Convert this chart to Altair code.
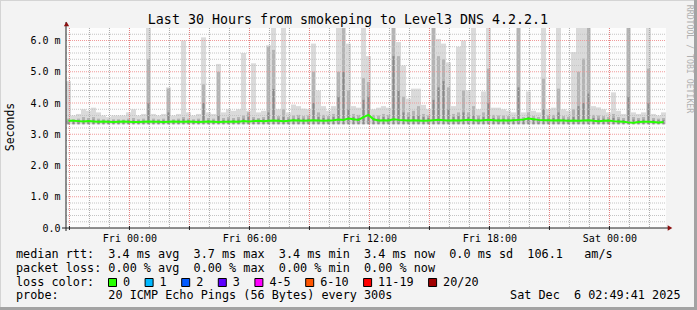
import altair as alt
import pandas as pd

# ---------------- data ----------------
title_text = "Last 30 Hours from smokeping to Level3 DNS 4.2.2.1"
y_title = "Seconds"
watermark = "RRDTOOL / TOBI OETIKER"

start_hour = 20 + 49 / 60 + 41 / 3600      # Thu 20:49:41, hours since Thu 00:00
span_hours = 30.0
step_hours = 0.25                           # one smoke column per 15 minutes

median_ms = [
    3.43, 3.43, 3.42, 3.41, 3.42, 3.41, 3.40, 3.41, 3.40, 3.39,
    3.40, 3.41, 3.40, 3.39, 3.39, 3.40, 3.41, 3.40, 3.40, 3.39,
    3.40, 3.41, 3.40, 3.40, 3.41, 3.40, 3.39, 3.40, 3.41, 3.40,
    3.39, 3.40, 3.40, 3.41, 3.40, 3.42, 3.41, 3.42, 3.43, 3.42,
    3.43, 3.44, 3.43, 3.42, 3.43, 3.45, 3.44, 3.43, 3.44, 3.45,
    3.44, 3.43, 3.44, 3.45, 3.47, 3.46, 3.50, 3.48, 3.46, 3.55,
    3.62, 3.48, 3.44, 3.45, 3.44, 3.48, 3.46, 3.45, 3.44, 3.45,
    3.44, 3.43, 3.44, 3.45, 3.46, 3.45, 3.44, 3.45, 3.44, 3.45,
    3.46, 3.45, 3.44, 3.45, 3.46, 3.45, 3.44, 3.45, 3.44, 3.45,
    3.46, 3.47, 3.50, 3.48, 3.46, 3.45, 3.45, 3.44, 3.45, 3.44,
    3.43, 3.44, 3.43, 3.44, 3.45, 3.43, 3.42, 3.43, 3.44, 3.42,
    3.41, 3.40, 3.38, 3.37, 3.39, 3.40, 3.40, 3.39, 3.38, 3.39,
]
smoke_max_ms = [
    4.70, 3.60, 3.65, 3.80, 3.75, 3.85, 3.70, 3.60, 3.55, 3.60,
    3.60, 3.60, 3.70, 3.80, 3.60, 3.65, 6.40, 3.65, 3.60, 3.65,
    4.50, 3.60, 3.65, 6.00, 3.70, 3.60, 3.65, 6.10, 3.70, 3.65,
    5.25, 3.70, 3.80, 3.75, 3.80, 5.60, 3.75, 5.27, 3.70, 3.75,
    5.85, 6.40, 3.80, 6.40, 3.70, 3.95, 3.90, 3.82, 3.80, 5.90,
    4.40, 3.90, 3.75, 3.90, 6.40, 6.40, 5.90, 3.90, 3.85, 6.40,
    5.50, 3.80, 3.85, 3.90, 3.85, 6.40, 5.95, 5.20, 4.14, 4.46,
    4.46, 3.94, 3.80, 6.40, 6.05, 5.90, 5.30, 3.90, 5.80, 6.00,
    4.40, 6.40, 3.80, 4.37, 6.40, 3.85, 3.85, 3.80, 3.75, 3.70,
    6.40, 3.70, 4.37, 3.75, 3.70, 6.40, 3.80, 3.85, 6.40, 3.80,
    3.75, 5.63, 6.40, 6.40, 6.40, 3.90, 3.86, 3.80, 3.70, 4.34,
    3.75, 3.65, 6.40, 3.70, 3.65, 3.70, 6.40, 3.65, 3.60, 3.70,
]
smoke_mid_ms = [
    3.50, 3.48, 3.50, 3.55, 3.52, 3.55, 3.50, 3.48, 3.47, 3.48,
    3.48, 3.47, 3.50, 3.52, 3.48, 3.50, 5.40, 3.50, 3.48, 3.50,
    4.46, 3.48, 3.50, 3.55, 3.50, 3.48, 3.50, 4.60, 3.52, 3.50,
    5.00, 3.52, 3.55, 3.52, 3.55, 3.60, 3.70, 3.55, 3.52, 3.55,
    5.80, 5.70, 3.58, 3.80, 3.55, 3.60, 3.62, 3.58, 3.60, 5.00,
    3.70, 3.62, 3.58, 3.65, 5.00, 6.40, 4.40, 3.65, 3.62, 4.80,
    4.67, 3.62, 3.60, 3.65, 3.62, 6.40, 5.50, 4.20, 3.70, 3.75,
    3.90, 3.65, 3.60, 6.40, 5.50, 5.40, 4.50, 3.65, 3.70, 4.40,
    3.70, 3.90, 3.60, 3.70, 5.10, 3.62, 3.60, 3.60, 3.58, 3.55,
    6.40, 3.55, 3.70, 3.58, 3.55, 4.78, 3.60, 3.62, 4.46, 3.58,
    3.56, 3.80, 5.00, 5.42, 6.40, 3.62, 3.60, 3.58, 3.55, 3.65,
    3.55, 3.52, 6.40, 3.55, 3.52, 3.55, 5.10, 3.52, 3.50, 3.52,
]
smoke_dark_ms = [
    3.44, 3.44, 3.45, 3.46, 3.46, 3.47, 3.45, 3.44, 3.44, 3.44,
    3.44, 3.44, 3.45, 3.45, 3.44, 3.44, 4.00, 3.45, 3.44, 3.45,
    3.70, 3.44, 3.45, 3.48, 3.45, 3.44, 3.45, 4.00, 3.46, 3.45,
    3.60, 3.46, 3.47, 3.46, 3.47, 3.50, 3.55, 3.48, 3.47, 3.48,
    3.70, 4.45, 3.50, 3.55, 3.48, 3.50, 3.52, 3.50, 3.50, 4.00,
    3.55, 3.52, 3.50, 3.55, 4.20, 5.00, 3.80, 3.55, 3.52, 4.10,
    4.20, 3.52, 3.50, 3.55, 3.52, 5.50, 4.40, 3.70, 3.55, 3.58,
    3.60, 3.55, 3.52, 4.10, 4.50, 4.70, 3.80, 3.55, 3.58, 3.70,
    3.55, 3.60, 3.50, 3.55, 4.00, 3.52, 3.50, 3.50, 3.50, 3.48,
    4.50, 3.48, 3.55, 3.50, 3.48, 3.80, 3.50, 3.52, 3.70, 3.50,
    3.48, 3.55, 3.90, 4.00, 4.30, 3.52, 3.50, 3.50, 3.48, 3.52,
    3.48, 3.46, 4.20, 3.47, 3.46, 3.47, 4.00, 3.46, 3.45, 3.46,
]
smoke_min_ms = 3.32

x_tick_hours = [24, 30, 36, 42, 48]
x_tick_labels = ["Fri 00:00", "Fri 06:00", "Fri 12:00", "Fri 18:00", "Sat 00:00"]
y_tick_values = [0, 1, 2, 3, 4, 5, 6]
y_tick_labels = ["0.0  ", "1.0 m", "2.0 m", "3.0 m", "4.0 m", "5.0 m", "6.0 m"]

legend_rows = [
    "median rtt:  3.4 ms avg  3.7 ms max  3.4 ms min  3.4 ms now  0.0 ms sd  106.1   am/s",
    "packet loss: 0.00 % avg  0.00 % max  0.00 % min  0.00 % now",
    "loss color:",
    "probe:       20 ICMP Echo Pings (56 Bytes) every 300s",
]
timestamp_text = "Sat Dec  6 02:49:41 2025"
loss_labels = ["0", "1", "2", "3", "4-5", "6-10", "11-19", "20/20"]
loss_colors = ["#26ff00", "#00b8ff", "#0059ff", "#5e00ff", "#ff00ff",
               "#ff5500", "#ff0000", "#a10000"]

# ---------------- layout / style ----------------
PL, PT, W, H = 66, 28, 600, 200
PX_PER_HOUR = W / span_hours
MONO = "DejaVu Sans Mono"
CHAR_W = 7.1
LEG_FS = 11.8


def nb(s):
    return s.replace(" ", "\u00a0")


n = len(median_ms)
t0 = [start_hour + i * step_hours for i in range(n)]
tc = [t + step_hours / 2 for t in t0]
mid_half = 1.5 / PX_PER_HOUR     # mid-grey core 3 px wide
dark_half = 1.0 / PX_PER_HOUR    # dark core 2 px wide
smoke_df = pd.DataFrame({
    "t0": t0,
    "t1": [t + step_hours for t in t0],
    "tc": tc,
    "m0": [c - mid_half for c in tc],
    "m1": [c + mid_half for c in tc],
    "d0": [c - dark_half for c in tc],
    "d1": [c + dark_half for c in tc],
    "median": median_ms,
    "light": smoke_max_ms,
    "mid": smoke_mid_ms,
    "dark": smoke_dark_ms,
    "low": [smoke_min_ms] * n,
})

xs = alt.Scale(domain=[start_hour, start_hour + span_hours], nice=False, zero=False)
ys = alt.Scale(domain=[0, 6.4], nice=False, zero=False)

x_label_expr = " : ".join(
    f"datum.value == {h} ? '{l}'" for h, l in zip(x_tick_hours, x_tick_labels)) + " : ''"
y_label_expr = " : ".join(
    f"datum.value == {v} ? '{nb(l)}'" for v, l in zip(y_tick_values, y_tick_labels)) + " : ''"

# identical axis definitions in every layer so that they merge into one axis
X_AXIS = alt.Axis(values=x_tick_hours, labelExpr=x_label_expr, grid=False, domain=False,
                  ticks=False, labelFont=MONO, labelFontSize=10, labelColor="#000000",
                  labelPadding=5, labelFlush=False, labelAngle=0, title=None)
Y_AXIS = alt.Axis(values=y_tick_values, labelExpr=y_label_expr, grid=False, domain=False,
                  ticks=False, labelFont=MONO, labelFontSize=10, labelColor="#000000",
                  labelPadding=6, labelFlush=False, labelBaseline="middle", title=None)


def X(field):
    return alt.X(field, scale=xs, axis=X_AXIS, title=None)


def Y(field):
    return alt.Y(field, scale=ys, axis=Y_AXIS, title=None)


layers = []


def smoke(a, b, top, color):
    return alt.Chart(smoke_df).mark_rect(color=color, clip=True).encode(
        x=X(f"{a}:Q"), x2=f"{b}:Q", y=Y("low:Q"), y2=f"{top}:Q")


layers.append(smoke("t0", "t1", "light", "#dadada"))
layers.append(smoke("m0", "m1", "mid", "#b4b4b4"))
layers.append(smoke("d0", "d1", "dark", "#8a8a8a"))

# grid
minor_h = [h for h in range(21, 51) if h % 3 != 0]
major_h = [h for h in range(21, 51) if h % 3 == 0]
minor_v = [round(k * 0.2, 1) for k in range(1, 32) if k % 5 != 0]
major_v = [1, 2, 3, 4, 5, 6]


def vgrid(hours, color):
    return alt.Chart(pd.DataFrame({"h": hours})).mark_rule(
        color=color, strokeDash=[1, 1], strokeWidth=1, opacity=1).encode(
        x=X("h:Q"), y=alt.value(0), y2=alt.value(H))


def hgrid(vals, color):
    return alt.Chart(pd.DataFrame({"v": vals})).mark_rule(
        color=color, strokeDash=[1, 1], strokeWidth=1, opacity=1).encode(
        y=Y("v:Q"), x=alt.value(0), x2=alt.value(W))


layers += [vgrid(minor_h, "#a9a9a9"), hgrid(minor_v, "#c4c4c4"),
           vgrid(major_h, "#e27a7a"), hgrid(major_v, "#f09a9a")]

# median line
layers.append(alt.Chart(smoke_df).mark_line(color="#26ff00", strokeWidth=2, clip=True).encode(
    x=X("tc:Q"), y=Y("median:Q")))

one = pd.DataFrame({"_": [0]})


def rect(x1, x2, y1, y2, fill, stroke=None):
    kw = dict(fill=fill)
    if stroke:
        kw.update(stroke=stroke, strokeWidth=1)
    return alt.Chart(one).mark_rect(**kw).encode(
        x=alt.value(x1), x2=alt.value(x2), y=alt.value(y1), y2=alt.value(y2))


def rule(x1, x2, y1, y2, color="#222222"):
    return alt.Chart(one).mark_rule(color=color, strokeWidth=1).encode(
        x=alt.value(x1), x2=alt.value(x2), y=alt.value(y1), y2=alt.value(y2))


def text(s, x, y, size, **kw):
    return alt.Chart(one).mark_text(text=nb(s), font=MONO, fontSize=size, **kw).encode(
        x=alt.value(x), y=alt.value(y))


# x tick marks at major grid lines
layers.append(alt.Chart(pd.DataFrame({"h": major_h})).mark_rule(color="#222222").encode(
    x=X("h:Q"), y=alt.value(H - 2), y2=alt.value(H + 2)))

# axis lines
layers.append(rule(0, 0, -6, H + 3))
layers.append(rule(-4, W + 2, H, H))

# arrows
layers.append(alt.Chart(one).mark_point(shape="triangle-up", filled=True, size=28,
                                        color="#8b1010", opacity=1).encode(
    x=alt.value(0.5), y=alt.value(-4)))
layers.append(alt.Chart(one).mark_point(shape="triangle-right", filled=True, size=28,
                                        color="#8b1010", opacity=1).encode(
    x=alt.value(W + 4), y=alt.value(H)))

# frame
layers.append(rect(-PL, 697 - PL, -PT, -PT + 1, "#d4d4d4"))
layers.append(rect(-PL, -PL + 1, -PT, 310 - PT, "#d4d4d4"))
layers.append(rect(694 - PL, 697 - PL, -PT, 310 - PT, "#a3a3a3"))
layers.append(rect(-PL, 697 - PL, 307 - PT, 310 - PT, "#a3a3a3"))

# texts
layers.append(text(title_text, 348 - PL, 24 - PT, 13.3, align="center", baseline="alphabetic",
                   color="#000000"))
layers.append(text(y_title, 10.5 - PL, 127 - PT, 11.5, align="center", baseline="middle",
                   angle=270, color="#000000"))
layers.append(text(watermark, 688.5 - PL, 59 - PT, 8.2, align="center", baseline="middle",
                   angle=90, color="#b0b0b0"))

row_base = [258, 271.5, 285.5, 299]
for s, yb in zip(legend_rows, row_base):
    layers.append(text(s, 16 - PL, yb - PT, LEG_FS, align="left", baseline="alphabetic",
                       color="#000000"))
layers.append(text(timestamp_text, 680.5 - PL, 299 - PT, LEG_FS, align="right",
                   baseline="alphabetic", color="#000000"))

bx = 108.5
for lab, col in zip(loss_labels, loss_colors):
    layers.append(rect(bx - PL, bx + 8 - PL, 278.5 - PT, 286.5 - PT, col, stroke="#000000"))
    lx = bx + 14.5
    layers.append(text(lab, lx - PL, 285.5 - PT, LEG_FS, align="left", baseline="alphabetic",
                       color="#000000"))
    bx = lx + len(lab) * CHAR_W + 15

chart = alt.layer(*layers).properties(
    width=W, height=H,
    autosize=alt.AutoSizeParams(type="none"),
    padding={"left": PL, "top": PT, "right": 697 - PL - W, "bottom": 310 - PT - H},
    background="#f3f3f3",
).configure_view(stroke=None, fill="#fdfdfd")

chart.save("out.html", embed_options={"renderer": "svg", "actions": False})
